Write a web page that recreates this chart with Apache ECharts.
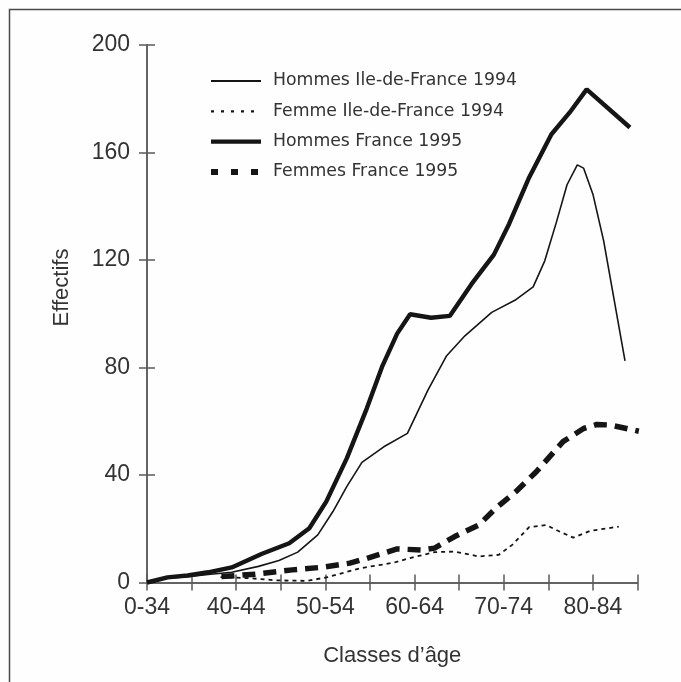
<!DOCTYPE html>
<html><head><meta charset="utf-8">
<script src="https://cdn.jsdelivr.net/npm/echarts@6/dist/echarts.min.js"></script>
<style>html,body{margin:0;padding:0;background:#fefefe}#c{width:681px;height:682px}</style>
</head><body><div id="c"></div>
<script>
// Age classes: one per x tick (index 0..11); labels shown on every other tick
const ageClasses = ['0-34','35-39','40-44','45-49','50-54','55-59','60-64','65-69','70-74','75-79','80-84','85-89'];
const yTicks = [0, 40, 80, 120, 160, 200];

// [position on age-class scale, effectifs]
const hommesIDF1994 = [[0,0],[0.46,1.6],[0.91,2.2],[1.37,3.0],[1.9,3.8],[2.5,6.0],[2.96,8.2],[3.38,11.3],[3.83,17.7],[4.17,26.4],[4.48,35.7],[4.82,44.7],[5.31,50.5],[5.84,55.5],[6.3,71.6],[6.72,84.4],[7.13,91.8],[7.73,100.5],[8.25,105],[8.66,110],[8.92,119.7],[9.18,134],[9.42,148],[9.65,155.4],[9.79,154.2],[10.0,144.5],[10.24,127.2],[10.72,82.5]];
const femmeIDF1994 = [[1.65,2],[2.3,1.6],[2.9,0.8],[3.6,0.6],[4.05,2],[4.78,5.3],[5.54,7.4],[5.92,9.2],[6.45,11.3],[6.9,11.5],[7.44,9.7],[7.89,10.3],[8.19,14],[8.57,20.6],[8.95,21.4],[9.26,18.9],[9.56,16.7],[9.94,19.2],[10.58,20.8]];
const hommesFrance1995 = [[0,0],[0.46,1.9],[0.91,2.6],[1.37,3.8],[1.9,5.6],[2.58,10.7],[3.19,14.6],[3.64,20.2],[4.02,30.1],[4.48,46.2],[4.93,64.8],[5.27,80.2],[5.61,92.6],[5.9,99.8],[6.37,98.5],[6.79,99.2],[7.28,111.1],[7.78,122],[8.12,133.4],[8.57,150.7],[9.07,166.8],[9.48,174.9],[9.86,183.5],[10.83,169.3]];
const femmesFrance1995 = [[1.67,2.2],[2.43,3.1],[3.26,4.7],[3.95,5.7],[4.55,7.2],[4.93,9],[5.61,12.5],[6.15,12.1],[6.45,12.8],[6.9,17.1],[7.44,21.4],[7.82,27.6],[8.27,33.8],[8.73,41.2],[9.33,52.4],[9.79,57.3],[10.09,58.8],[10.39,58.6],[11.03,56.3]];

const seriesNames = ['Hommes Ile-de-France 1994','Femme Ile-de-France 1994','Hommes France 1995','Femmes France 1995'];

const chart = echarts.init(document.getElementById('c'), null, {renderer:'canvas'});
const axisCol = '#5a5a5a';
const textCol = '#333';
const tickFont = {fontFamily:'Liberation Sans', fontSize:23, color:textCol};
const col = '#151515';

const styles = [
  {color:col, width:1.6, type:'solid'},
  {color:col, width:1.8, type:[4,4]},
  {color:col, width:4.4, type:'solid'},
  {color:col, width:5.5, type:[13,8]}
];
const legendStyles = [
  {color:col, width:1.8, type:'solid'},
  {color:col, width:2.2, type:[3,7]},
  {color:col, width:4.4, type:'solid'},
  {color:col, width:6, type:[7,13]}
];

function xAx(inside){
  return {type:'value', min:0, max:ageClasses.length-1, interval:1, position:'bottom',
    axisLine:{show:true, lineStyle:{color:axisCol, width:1.5}},
    axisTick:{show:true, inside:inside, length:8, lineStyle:{color:axisCol, width:1.5}},
    splitLine:{show:false},
    axisLabel:{show:!inside, margin:14, ...tickFont,
      formatter:(v)=> (v%2===0 && v<ageClasses.length-1) ? ageClasses[v] : ''},
    name: inside ? '' : 'Classes d\u2019\u00e2ge', nameLocation:'middle', nameGap:62,
    nameTextStyle:{fontFamily:'Liberation Sans', fontSize:22, color:textCol}
  };
}
function yAx(inside){
  return {type:'value', min:yTicks[0], max:yTicks[yTicks.length-1], interval:yTicks[1]-yTicks[0], position:'left',
    axisLine:{show:true, lineStyle:{color:axisCol, width:1.5}},
    axisTick:{show:true, inside:inside, length:8, lineStyle:{color:axisCol, width:1.5}},
    splitLine:{show:false},
    axisLabel:{show:!inside, margin:17, ...tickFont}
  };
}

chart.setOption({
  backgroundColor:'#fefefe',
  animation:false,
  grid:{left:147, right:43.5, top:45, bottom:99.5},
  xAxis:[xAx(false), xAx(true)],
  yAxis:[yAx(false), yAx(true)],
  legend:{
    orient:'vertical', left:203, top:67.5, itemWidth:50, itemHeight:14, itemGap:13.3,
    data:seriesNames.map((n,i)=>({name:n, lineStyle:legendStyles[i], itemStyle:{opacity:0, borderWidth:0}})),
    textStyle:{fontFamily:'DejaVu Sans', fontSize:17.3, lineHeight:16, color:textCol, padding:[0,0,0,7]}
  },
  graphic:[
    {type:'rect', z:-10, silent:true, shape:{x:9.5, y:9.5, width:720, height:720}, style:{fill:null, stroke:'#4a4a4a', lineWidth:1.5}},
    {type:'text', silent:true, x:62, y:287.5, rotation:Math.PI/2,
      style:{text:'Effectifs', fontFamily:'Liberation Sans', fontSize:22, fill:textCol, align:'center', verticalAlign:'middle'}}
  ],
  series:[
    {name:seriesNames[0], type:'line', data:hommesIDF1994, symbol:'none', clip:false, lineStyle:styles[0], itemStyle:{color:col}},
    {name:seriesNames[1], type:'line', data:femmeIDF1994, symbol:'none', clip:false, lineStyle:styles[1], itemStyle:{color:col}},
    {name:seriesNames[2], type:'line', data:hommesFrance1995, symbol:'none', clip:false, lineStyle:styles[2], itemStyle:{color:col}},
    {name:seriesNames[3], type:'line', data:femmesFrance1995, symbol:'none', clip:false, lineStyle:styles[3], itemStyle:{color:col}}
  ]
});
</script>
</body></html>
